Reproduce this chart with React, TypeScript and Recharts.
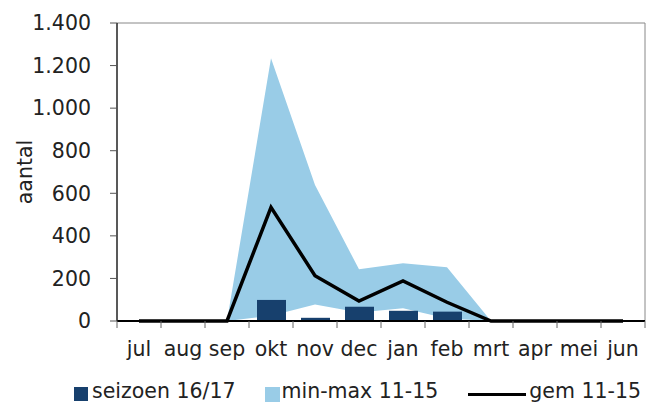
import React from 'react';
import {
  ComposedChart,
  Area,
  Bar,
  Line,
  XAxis,
  YAxis,
  Legend,
  CartesianGrid,
} from 'recharts';

const MONTHS = ['jul', 'aug', 'sep', 'okt', 'nov', 'dec', 'jan', 'feb', 'mrt', 'apr', 'mei', 'jun'];
const SEASON_16_17: (number | null)[] = [null, null, null, 99, 15, 67, 48, 44, null, null, null, null];
const MIN_11_15 = [0, 0, 0, 25, 78, 40, 60, 12, 0, 0, 0, 0];
const MAX_11_15 = [0, 0, 0, 1234, 639, 243, 271, 252, 0, 0, 0, 0];
const GEM_11_15 = [0, 0, 0, 534, 213, 94, 188, 88, 0, 0, 0, 0];
const Y_TICKS = [0, 200, 400, 600, 800, 1000, 1200, 1400];

const SERIES_NAMES = { season: 'seizoen 16/17', range: 'min-max 11-15', gem: 'gem 11-15' };

const COLORS = { season: '#17406D', range: '#99CCE7', gem: '#000000' };

const data = MONTHS.map((m, i) => ({
  month: m,
  season: SEASON_16_17[i],
  range: [MIN_11_15[i], MAX_11_15[i]],
  gem: GEM_11_15[i],
}));

const FONT = '"DejaVu Sans", sans-serif';
const TEXT_COLOR = '#222';
const FONT_SIZE = 20.5;

const fmt = (n: number) =>
  n >= 1000 ? `${Math.floor(n / 1000)}.${String(n % 1000).padStart(3, '0')}` : String(n);

const MonthTick = (props: any) => {
  const { x, y, payload, index, width, visibleTicksCount } = props;
  const half = width / visibleTicksCount / 2;
  const isLast = index === visibleTicksCount - 1;
  return (
    <g>
      <line x1={x - half} x2={x - half} y1={y} y2={y + 7} stroke="#666" strokeWidth={1} />
      {isLast && <line x1={x + half} x2={x + half} y1={y} y2={y + 7} stroke="#666" strokeWidth={1} />}
      <text
        x={x}
        y={y + 20}
        dy="0.71em"
        textAnchor="middle"
        fill={TEXT_COLOR}
        fontSize={FONT_SIZE}
        fontFamily={FONT}
      >
        {payload.value}
      </text>
    </g>
  );
};

const LegendContent = () => (
  <div
    style={{
      display: 'flex',
      alignItems: 'center',
      height: 30,
      paddingLeft: 74,
      fontFamily: FONT,
      fontSize: FONT_SIZE,
      color: TEXT_COLOR,
      whiteSpace: 'nowrap',
    }}
  >
    <span style={{ width: 14, height: 14, background: COLORS.season, display: 'inline-block', marginRight: 4, transform: 'translateY(3px)' }} />
    <span style={{ marginRight: 29 }}>{SERIES_NAMES.season}</span>
    <span style={{ width: 15, height: 15, background: COLORS.range, display: 'inline-block', marginRight: 2, transform: 'translateY(3px)' }} />
    <span style={{ marginRight: 30 }}>{SERIES_NAMES.range}</span>
    <span style={{ width: 58, height: 3, background: COLORS.gem, display: 'inline-block', marginRight: 3, transform: 'translateY(3px)' }} />
    <span>{SERIES_NAMES.gem}</span>
  </div>
);

export default function App() {
  return (
    <div style={{ position: 'absolute', left: 0, top: 0, width: 656, height: 408, background: '#fff' }}>
      <ComposedChart
        width={656}
        height={408}
        data={data}
        margin={{ top: 23, right: 11, bottom: 47, left: 0 }}
        style={{ fontFamily: FONT }}
      >
        <CartesianGrid
          stroke="#888"
          strokeWidth={1}
          horizontalCoordinatesGenerator={({ offset }: any) => [offset.top]}
          verticalCoordinatesGenerator={({ offset }: any) => [offset.left + offset.width]}
        />
        <XAxis
          dataKey="month"
          height={40}
          tickLine={false}
          tickSize={0}
          tickMargin={0}
          axisLine={{ stroke: '#000', strokeWidth: 2 }}
          tick={<MonthTick />}
          interval={0}
        />
        <YAxis
          domain={[0, 1400]}
          ticks={Y_TICKS}
          width={117}
          tickSize={7}
          tickMargin={19}
          tickFormatter={fmt}
          tick={{ fill: TEXT_COLOR, fontSize: FONT_SIZE, fontFamily: FONT }}
          tickLine={{ stroke: '#555', strokeWidth: 1 }}
          axisLine={{ stroke: '#222', strokeWidth: 1.5 }}
          interval={0}
          label={{
            value: 'aantal',
            angle: -90,
            position: 'insideLeft',
            offset: 25,
            style: { textAnchor: 'middle', fill: TEXT_COLOR, fontSize: FONT_SIZE, fontFamily: FONT },
          }}
        />
        <Area
          dataKey="range"
          name={SERIES_NAMES.range}
          type="linear"
          stroke="none"
          fill={COLORS.range}
          fillOpacity={1}
          isAnimationActive={false}
          activeDot={false}
        />
        <Bar
          dataKey="season"
          name={SERIES_NAMES.season}
          fill={COLORS.season}
          barSize={29}
          isAnimationActive={false}
        />
        <Line
          dataKey="gem"
          name={SERIES_NAMES.gem}
          type="linear"
          stroke={COLORS.gem}
          strokeWidth={3.5}
          dot={false}
          activeDot={false}
          isAnimationActive={false}
        />
        <Legend
          layout="horizontal"
          verticalAlign="middle"
          align="center"
          content={<LegendContent />}
          wrapperStyle={{ position: 'absolute', left: 0, top: 376, width: 656, height: 30 }}
        />
      </ComposedChart>
    </div>
  );
}
